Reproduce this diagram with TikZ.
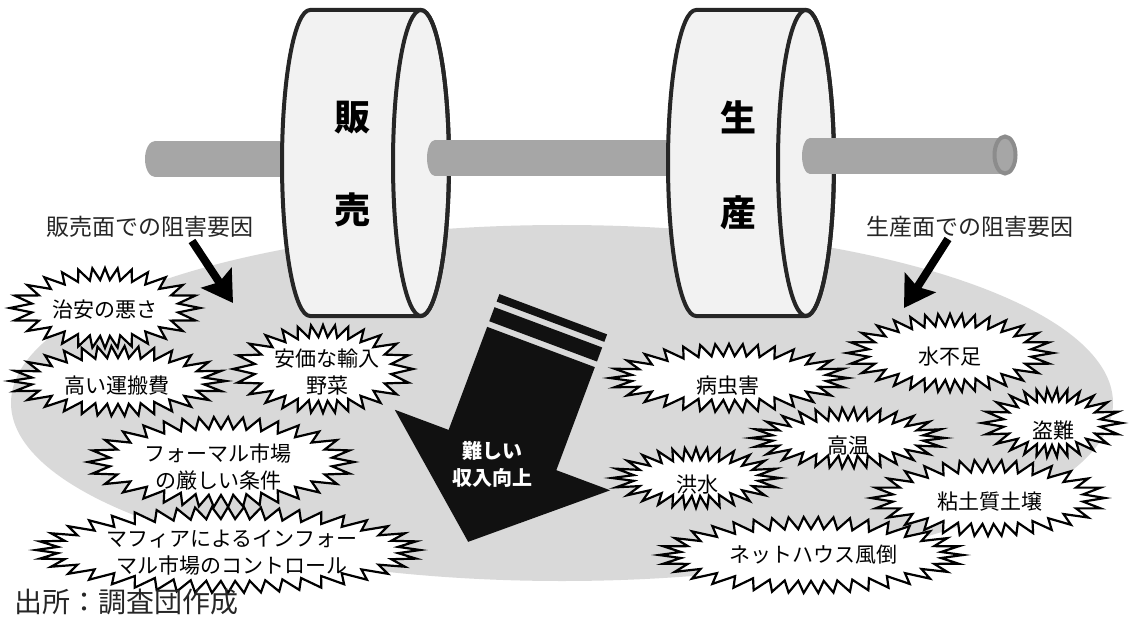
\documentclass[tikz,border=0pt]{standalone}
\usepackage{fontspec}
\newfontfamily\jp{Noto Sans CJK JP}
\usetikzlibrary{arrows.meta}
\definecolor{groundgray}{HTML}{D9D9D9}
\definecolor{bargray}{HTML}{A6A6A6}
\definecolor{ringgray}{HTML}{8C8C8C}
\definecolor{platefill}{HTML}{F2F2F2}
\definecolor{plateedge}{HTML}{262626}
\definecolor{arrowblack}{HTML}{111111}
\begin{document}
\begin{tikzpicture}[x=1pt,y=-1pt,
  plate/.style={fill=platefill, draw=plateedge, line width=4pt, line join=round},
  plateline/.style={draw=plateedge, line width=4pt},
  platetext/.style={font={\jp\bfseries\fontsize{36}{36}\selectfont}, text=black, inner sep=0pt},
  captext/.style={font={\jp\fontsize{23}{28}\selectfont}, text=black!85, inner sep=0pt},
  pointer/.style={line width=8pt, draw=black, -{Stealth[length=30pt,width=36pt,inset=5pt]}},
  burstfill/.style={fill=white},
  burstedge/.style={draw=black, line width=2.2pt, line join=miter, miter limit=10},
  bursttext/.style={font={\jp\fontsize{21}{27}\selectfont}, align=center, inner sep=0pt},
  bigarrow/.style={fill=arrowblack},
  arrowtext/.style={font={\jp\bfseries\fontsize{20}{27}\selectfont}, text=white, align=center, inner sep=0pt}]
\useasboundingbox (0,0) rectangle (1137,628);
\fill[white] (0,0) rectangle (1137,628);

% ground shadow
\fill[groundgray] (562,403) ellipse [x radius=551, y radius=178];

% barbell: left bar, left plate, middle bar, right plate, right bar
\fill[bargray] (155,141) rectangle (305,177);
\fill[bargray] (155,159) ellipse [x radius=10, y radius=18];

\filldraw[plate] (310,10) -- (421,10)
  arc[start angle=-90, end angle=90, x radius=28, y radius=153]
  -- (310,316)
  arc[start angle=90, end angle=270, x radius=28, y radius=153] -- cycle;
\draw[plateline] (421,163) ellipse [x radius=28, y radius=153];

\fill[bargray] (435,140) rectangle (715,176);
\fill[bargray] (435,158) ellipse [x radius=8, y radius=18];

\filldraw[plate] (696,10) -- (806,10)
  arc[start angle=-90, end angle=90, x radius=28, y radius=153]
  -- (696,316)
  arc[start angle=90, end angle=270, x radius=28, y radius=153] -- cycle;
\draw[plateline] (806,163) ellipse [x radius=28, y radius=153];

\fill[bargray] (810,138) rectangle (1005,174);
\fill[bargray] (810,156) ellipse [x radius=8, y radius=18];
\filldraw[fill=bargray, draw=ringgray, line width=4pt] (1005,155) ellipse [x radius=10.5, y radius=18.5];

\node[platetext] (p1a) at (352,118) {販};
\node[platetext] (p1b) at (352,210) {売};
\node[platetext] (p2a) at (738,117) {生};
\node[platetext] (p2b) at (738,213) {産};

% captions and pointers
\node[captext] (lab1) at (150,227) {販売面での阻害要因};
\node[captext] (lab2) at (970,227) {生産面での阻害要因};
\coordinate (a1s) at (192,241);
\coordinate (a1t) at (233,303);
\coordinate (a2s) at (948,239);
\coordinate (a2t) at (904,308);
\draw[pointer] (a1s) -- (a1t);
\draw[pointer] (a2s) -- (a2t);

% spiky bubbles: fills first, outlines on top
% (spike angles are warped so the points do not crowd at the ends)
\def\burstlist{105/308/95/40/28, 118/381/108/35/30, 323/369/90/44/28,
  221/462/133/45/34, 228/550/192/43/44, 729/378/119/34/32, 950/353/103/39/32,
  1052/423/70/34/26, 848/438/97/30/30, 696/478/84/30/28, 988/498/117/38/32,
  811/555/152/38/38}
\foreach \cx/\cy/\rx/\ry/\n in \burstlist {
  \pgfmathtruncatemacro\last{2*\n-1}
  \pgfmathsetmacro\st{180/\n}
  \fill[burstfill] plot[variable=\k, samples at={0,...,\last}]
    ({\cx+(\rx-21*mod(\k,2))*cos(\k*\st+12*sin(2*\k*\st))},
     {\cy+(\ry-12*mod(\k,2))*sin(\k*\st+12*sin(2*\k*\st))}) -- cycle;
}
\foreach \cx/\cy/\rx/\ry/\n in \burstlist {
  \pgfmathtruncatemacro\last{2*\n-1}
  \pgfmathsetmacro\st{180/\n}
  \draw[burstedge] plot[variable=\k, samples at={0,...,\last}]
    ({\cx+(\rx-21*mod(\k,2))*cos(\k*\st+12*sin(2*\k*\st))},
     {\cy+(\ry-12*mod(\k,2))*sin(\k*\st+12*sin(2*\k*\st))}) -- cycle;
}

\node[bursttext] (b1) at (105,310) {治安の悪さ};
\node[bursttext] (b2) at (117,386) {高い運搬費};
\node[bursttext] (b3) at (327,372) {安価な輸入\\野菜};
\node[bursttext] (b4) at (218,467) {フォーマル市場\\の厳しい条件};
\node[bursttext] (b5) at (232,553) {マフィアによるインフォー\\マル市場のコントロール};
\node[bursttext] (b6) at (728,386) {病虫害};
\node[bursttext] (b7) at (950,357) {水不足};
\node[bursttext] (b8) at (1053,431) {盗難};
\node[bursttext] (b9) at (848,446) {高温};
\node[bursttext] (b10) at (697,485) {洪水};
\node[bursttext] (b11) at (990,502) {粘土質土壌};
\node[bursttext] (b12) at (813,555) {ネットハウス風倒};

% falling income arrow
\begin{scope}[shift={(541,347)}, rotate=-20.5]
  \fill[bigarrow] (-57.5,0) -- (57.5,0) -- (57.5,110) -- (115,110) -- (0,208)
    -- (-115,110) -- (-57.5,110) -- cycle;
  \fill[bigarrow] (-57.5,-21) rectangle (57.5,-6);
  \fill[bigarrow] (-57.5,-35) rectangle (57.5,-27);
\end{scope}
\node[arrowtext] (down) at (492,464) {難しい\\収入向上};

% source note
\node[captext, font={\jp\fontsize{28}{30}\selectfont}, anchor=west] (src) at (14,602) {出所：調査団作成};
\end{tikzpicture}
\end{document}
